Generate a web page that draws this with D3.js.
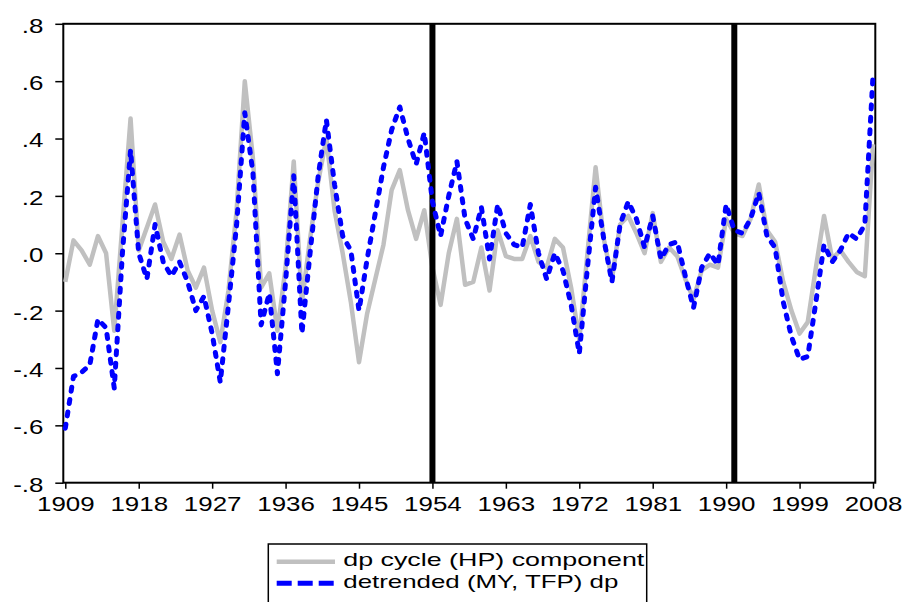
<!DOCTYPE html>
<html>
<head>
<meta charset="utf-8">
<script src="https://cdn.jsdelivr.net/npm/d3@7"></script>
<style>
  html, body { margin: 0; padding: 0; background: #fff; }
  svg { display: block; font-family: "Liberation Sans", Arial, sans-serif; }
</style>
</head>
<body>
<svg id="chart" width="902" height="602"></svg>
<script>
// Annual observations, 1909-2008
const years = d3.range(1909, 2009);

// dp cycle (HP) component
const hpCycle = [
  -0.10, 0.045, 0.01, -0.04, 0.06, 0.00, -0.27, 0.10, 0.47, 0.01,   // 1909-1918
   0.09, 0.17, 0.04, -0.02, 0.065, -0.06, -0.12, -0.05, -0.20, -0.31, // 1919-1928
  -0.13, 0.15, 0.60, 0.33, -0.12, -0.07, -0.27, -0.05, 0.32, -0.17,  // 1929-1938
   0.05, 0.25, 0.40, 0.15, 0.00, -0.17, -0.38, -0.21, -0.09, 0.03,   // 1939-1948
   0.22, 0.29, 0.15, 0.05, 0.15, -0.05, -0.18, 0.00, 0.12, -0.11,    // 1949-1958
  -0.10, 0.02, -0.13, 0.08, -0.01, -0.02, -0.02, 0.06, -0.03, -0.05, // 1959-1968
   0.05, 0.02, -0.12, -0.30, 0.00, 0.30, 0.05, -0.09, 0.10, 0.13,    // 1969-1978
   0.07, 0.00, 0.14, -0.03, 0.02, -0.01, -0.09, -0.16, -0.06, -0.04, // 1979-1988
  -0.05, 0.12, 0.07, 0.06, 0.12, 0.24, 0.08, 0.04, -0.10, -0.20,     // 1989-1998
  -0.28, -0.24, -0.05, 0.13, -0.02, 0.01, -0.03, -0.065, -0.08, 0.38 // 1999-2008
];

// detrended (MY, TFP) dp
const detrendedDp = [
  -0.61, -0.43, -0.415, -0.39, -0.23, -0.26, -0.47, 0.00, 0.36, 0.00, // 1909-1918
  -0.09, 0.10, -0.03, -0.08, -0.03, -0.10, -0.20, -0.15, -0.28, -0.45, // 1919-1928
  -0.18, 0.10, 0.49, 0.28, -0.25, -0.14, -0.42, -0.10, 0.27, -0.28,    // 1929-1938
   0.00, 0.27, 0.465, 0.24, 0.06, 0.01, -0.20, -0.02, 0.14, 0.30,      // 1939-1948
   0.43, 0.51, 0.40, 0.31, 0.42, 0.18, 0.06, 0.20, 0.32, 0.12,         // 1949-1958
   0.05, 0.16, -0.02, 0.17, 0.07, 0.03, 0.02, 0.17, 0.00, -0.09,       // 1959-1968
   0.00, -0.06, -0.18, -0.35, -0.05, 0.23, 0.05, -0.10, 0.10, 0.18,    // 1969-1978
   0.12, 0.02, 0.13, -0.02, 0.03, 0.04, -0.08, -0.19, -0.05, 0.00,     // 1979-1988
  -0.04, 0.17, 0.08, 0.07, 0.12, 0.21, 0.06, 0.02, -0.17, -0.29,       // 1989-1998
  -0.37, -0.36, -0.17, 0.03, -0.03, 0.01, 0.07, 0.05, 0.10, 0.62       // 1999-2008
];

const xTickYears = [1909, 1918, 1927, 1936, 1945, 1954, 1963, 1972, 1981, 1990, 1999, 2008];
const yTickValues = [-0.8, -0.6, -0.4, -0.2, 0.0, 0.2, 0.4, 0.6, 0.8];
const breakYears = [1954, 1991];
const seriesNames = ["dp cycle (HP) component", "detrended (MY, TFP) dp"];

// Layout
const frame = { left: 63.3, right: 875.3, top: 23.8, bottom: 482.7 };
const textStretch = 1.33;
const fontSize = 19.5;

const svg = d3.select("#chart");

const x = d3.scaleLinear().domain([1909, 2008]).range([65.3, 873]);
const y = d3.scaleLinear().domain([-0.8, 0.8]).range([frame.bottom, frame.top]);

// ".8", ".0", "-.2" style labels with a plain hyphen
const fmtY = v => d3.format(".1f")(v).replace("\u2212", "-").replace(/^(-?)0\./, "$1.");

// Plot frame
svg.append("rect")
  .attr("x", frame.left).attr("y", frame.top)
  .attr("width", frame.right - frame.left)
  .attr("height", frame.bottom - frame.top)
  .attr("fill", "#fff")
  .attr("stroke", "#000")
  .attr("stroke-width", 2);

const hpData = years.map((yr, i) => ({ year: yr, v: hpCycle[i] }));
const myData = years.map((yr, i) => ({ year: yr, v: detrendedDp[i] }));

const line = d3.line().x(d => x(d.year)).y(d => y(d.v));

// HP cycle (solid grey)
svg.append("path")
  .datum(hpData)
  .attr("d", line)
  .attr("fill", "none")
  .attr("stroke", "#c0c0c0")
  .attr("stroke-width", 4.5)
  .attr("stroke-linejoin", "round");

// Break lines
svg.selectAll("line.break")
  .data(breakYears)
  .join("line")
  .attr("class", "break")
  .attr("x1", d => x(d)).attr("x2", d => x(d))
  .attr("y1", frame.top).attr("y2", frame.bottom)
  .attr("stroke", "#000")
  .attr("stroke-width", 6);

// Detrended dp (blue dashed)
svg.append("path")
  .datum(myData)
  .attr("d", line)
  .attr("fill", "none")
  .attr("stroke", "#0000ff")
  .attr("stroke-width", 5)
  .attr("stroke-dasharray", "4,8.5")
  .attr("stroke-linecap", "round")
  .attr("stroke-linejoin", "round");

// Bottom axis
const xAxis = svg.append("g")
  .attr("transform", `translate(0,${frame.bottom})`)
  .call(d3.axisBottom(x)
    .tickValues(xTickYears)
    .tickFormat(d3.format("d"))
    .tickSizeInner(6)
    .tickSizeOuter(0)
    .tickPadding(8));
xAxis.select(".domain").remove();
xAxis.selectAll(".tick line").attr("stroke", "#000").attr("stroke-width", 1.5);
xAxis.selectAll(".tick text")
  .attr("fill", "#000")
  .style("font-size", fontSize + "px")
  .style("font-family", '"Liberation Sans", Arial, sans-serif')
  .attr("transform", `scale(${textStretch},1)`);

// Left axis
const yAxis = svg.append("g")
  .attr("transform", `translate(${frame.left},0)`)
  .call(d3.axisLeft(y)
    .tickValues(yTickValues)
    .tickFormat(fmtY)
    .tickSizeInner(8)
    .tickSizeOuter(0));
yAxis.select(".domain").remove();
yAxis.selectAll(".tick line").attr("stroke", "#000").attr("stroke-width", 1.5);
yAxis.selectAll(".tick text")
  .attr("fill", "#000")
  .attr("x", -19.8 / textStretch)
  .attr("dy", "0.43em")
  .style("font-size", fontSize + "px")
  .style("font-family", '"Liberation Sans", Arial, sans-serif')
  .attr("transform", `scale(${textStretch},1)`);

// Legend
const legend = svg.append("g");
legend.append("rect")
  .attr("x", 268.3).attr("y", 544)
  .attr("width", 378.4).attr("height", 80)
  .attr("fill", "#fff")
  .attr("stroke", "#000")
  .attr("stroke-width", 1.5);

const legendItems = [
  { name: seriesNames[0], color: "#c0c0c0", width: 4.5, dash: null, y: 561.7, textY: 566, textLen: 301 },
  { name: seriesNames[1], color: "#0000ff", width: 5, dash: "15,6", y: 583.3, textY: 588, textLen: 275 }
];
legendItems.forEach(it => {
  legend.append("line")
    .attr("x1", 276.7).attr("x2", 335)
    .attr("y1", it.y).attr("y2", it.y)
    .attr("stroke", it.color)
    .attr("stroke-width", it.width)
    .attr("stroke-dasharray", it.dash);
  legend.append("text")
    .attr("x", 343.3).attr("y", it.textY)
    .attr("textLength", it.textLen)
    .attr("lengthAdjust", "spacingAndGlyphs")
    .style("font-size", "19px")
    .attr("fill", "#000")
    .text(it.name);
});
</script>
</body>
</html>
